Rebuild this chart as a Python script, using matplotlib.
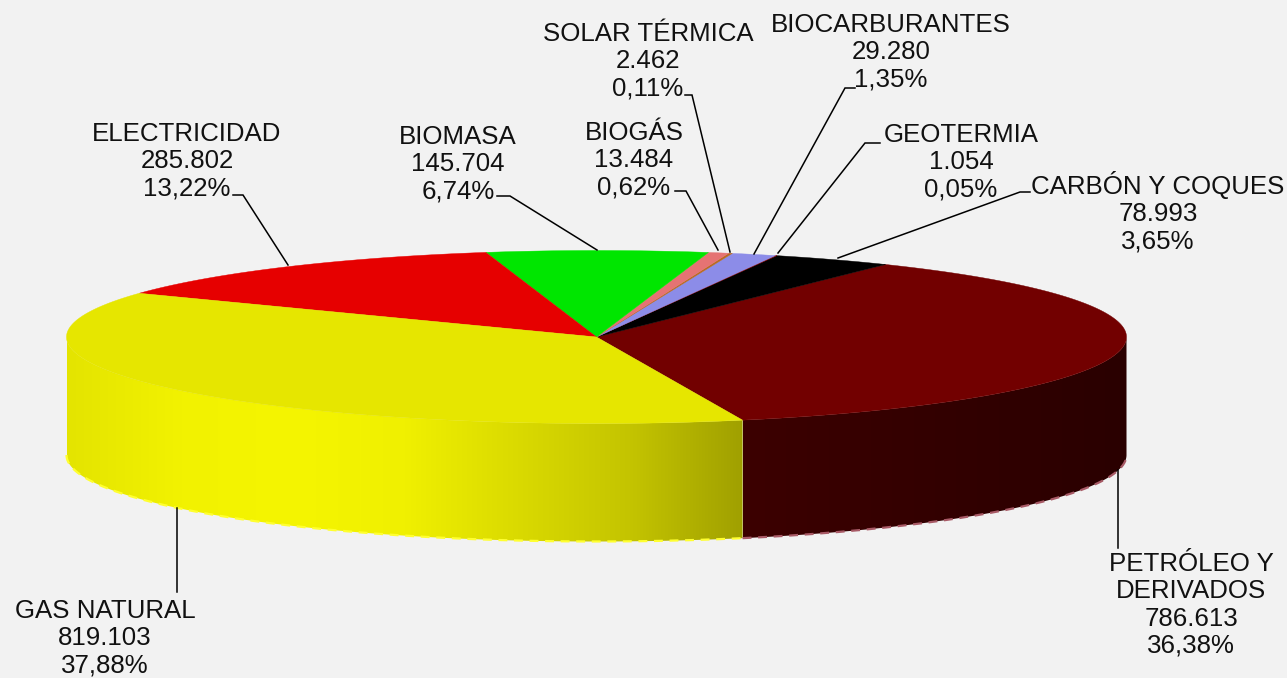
import numpy as np
import matplotlib
matplotlib.use("Agg")
import matplotlib.pyplot as plt
from matplotlib.colors import LinearSegmentedColormap
from matplotlib.patches import Polygon

# Data, counter-clockwise from the front of the pie
categories = ["PETRÓLEO Y\nDERIVADOS", "CARBÓN Y COQUES", "GEOTERMIA", "BIOCARBURANTES",
              "SOLAR TÉRMICA", "BIOGÁS", "BIOMASA", "ELECTRICIDAD", "GAS NATURAL"]
values = [786613, 78993, 1054, 29280, 2462, 13484, 145704, 285802, 819103]
percent_labels = ["36,38%", "3,65%", "0,05%", "1,35%", "0,11%", "0,62%", "6,74%", "13,22%", "37,88%"]
value_labels = ["786.613", "78.993", "1.054", "29.280", "2.462", "13.484", "145.704", "285.802", "819.103"]
colors = ["#720000", "#000000", "#800000", "#8c8ce8", "#b86a20", "#e57373", "#00e600", "#e60000", "#e6e600"]

# Geometry in pixels
W, H = 1287, 678
CX, CY, RX, RY, DEPTH = 596.5, 337, 530, 86.5, 118
START = -74.0

# label centre, leader polyline
label_pos = [(1191, 605), (1158, 212), (961, 162), (891, 52), (648, 61), (634, 160), (458, 164), (187, 161), (105, 638)]
leaders = [
    [(1118, 470), (1118, 548)],
    [(1030, 192), (1020, 192), (838, 258)],
    [(880, 143), (865, 143), (778, 253)],
    [(855, 88), (845, 88), (754, 254)],
    [(685, 95), (692, 95), (730, 252)],
    [(675, 191), (686, 191), (718, 250)],
    [(497, 196), (510, 196), (597, 250)],
    [(233, 195), (243, 195), (288, 265)],
    [(177, 508), (177, 592)],
]

plt.rcParams["font.family"] = ["Liberation Sans", "DejaVu Sans"]
BG = "#f2f2f2"
fig = plt.figure(figsize=(W / 100, H / 100), dpi=100, facecolor=BG)
ax = fig.add_axes([0, 0, 1, 1])
ax.set_xlim(0, W)
ax.set_ylim(H, 0)
ax.axis("off")


def rim(t0, t1, n=400):
    t = np.radians(np.linspace(t0, t1, n))
    return CX + RX * np.cos(t), CY - RY * np.sin(t)


fractions = np.array(values, dtype=float) / np.sum(values)
edges = START + np.concatenate([[0], np.cumsum(fractions)]) * 360

# Side walls (only the front half of the ellipse is visible)
side_ramps = {
    0: ["#3c0000", "#2a0000"],
    8: ["#e4e400", "#f2f200", "#f5f500", "#f0f000", "#dada00", "#c4c400", "#a0a000"],
}
side_spans = {0: (START, 0), 8: (180, 360 + START)}
side_x = {0: (CX + RX * np.cos(np.radians(START)), CX + RX),
          8: (CX - RX, CX + RX * np.cos(np.radians(START)))}
edge_cols = {0: "#a85a66", 8: "#ffff30"}
for i, ramp in side_ramps.items():
    x, y = rim(*side_spans[i])
    poly_x = np.concatenate([x, x[::-1]])
    poly_y = np.concatenate([y, y[::-1] + DEPTH])
    clip = Polygon(np.column_stack([poly_x, poly_y]), closed=True, transform=ax.transData,
                   facecolor="none", edgecolor="none")
    ax.add_patch(clip)
    cmap = LinearSegmentedColormap.from_list(f"side{i}", ramp)
    x0, x1 = side_x[i]
    im = ax.imshow(np.linspace(0, 1, 256)[None, :], cmap=cmap, aspect="auto",
                   extent=(x0, x1, 600, 200), zorder=2, interpolation="bilinear")
    im.set_clip_path(clip)
    ax.plot(x, y + DEPTH, color=edge_cols[i], lw=1.6, ls=(0, (4, 3)), zorder=3,
            solid_capstyle="butt")

ax.set_xlim(0, W)
ax.set_ylim(H, 0)

# Top face
for i, col in enumerate(colors):
    x, y = rim(edges[i], edges[i + 1], 200)
    pts = np.column_stack([np.r_[CX, x], np.r_[CY, y]])
    ax.add_patch(Polygon(pts, closed=True, facecolor=col, edgecolor=col, lw=0.3, zorder=4))

# Leaders and labels
for i, line in enumerate(leaders):
    lx, ly = zip(*line)
    ax.plot(lx, ly, color="black", lw=1.1, zorder=5, solid_joinstyle="miter")
    txt = f"{categories[i]}\n{value_labels[i]}\n{percent_labels[i]}"
    ax.text(label_pos[i][0], label_pos[i][1], txt, ha="center", va="center",
            fontsize=18.6, color="#111111", linespacing=1.16, zorder=6, multialignment="center")

fig.savefig("out.png", dpi=100, facecolor=BG)
